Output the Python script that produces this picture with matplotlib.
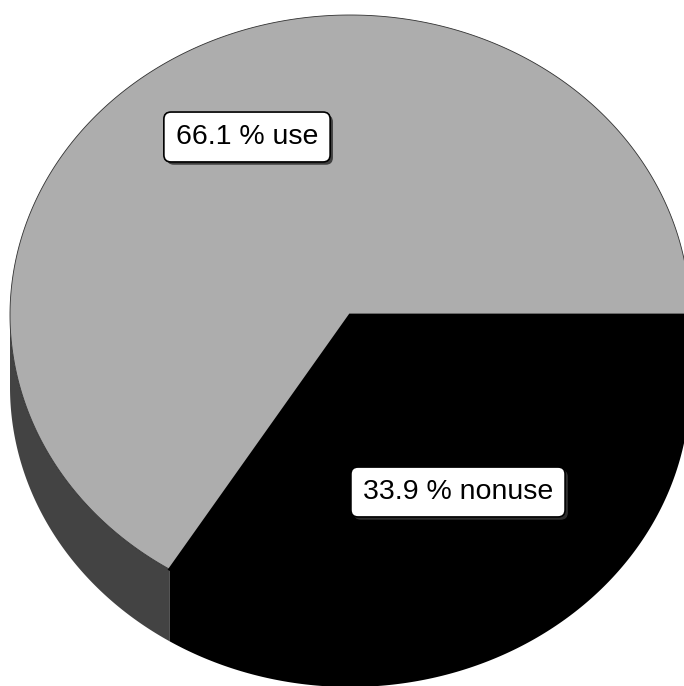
import matplotlib
matplotlib.use('Agg')
import matplotlib.pyplot as plt  # type: ignore
import matplotlib.patheffects as pe  # type: ignore
import numpy as np

# Chart data
labels = ['use', 'nonuse']
shares = [66.1, 33.9]
top_colours = ['#adadad', '#000000']
top_edges = ['#303030', '#000000']
edge_widths = [0.6, 2.0]
side_colours = ['#434343', '#000000']

# Layout of the tilted pie, in pixels of the output image
CENTRE = (350.0, 315.0)
RADIUS_X = 340.0
RADIUS_Y = 300.0
DEPTH = 72.0
LABEL_POS = [(247, 137), (458, 492)]


def rim(theta: np.ndarray, drop: float = 0.0) -> tuple:
    """ Points on the rim of the pie for angles in degrees. """
    t = np.radians(theta)
    x = CENTRE[0] + RADIUS_X * np.cos(t)
    y = CENTRE[1] - RADIUS_Y * np.sin(t) + drop
    return x, y


def slice_angles(values: list) -> list:
    """ Start and end angle of each slice. The last slice runs clockwise
    from three o'clock, the others fill the rest counter-clockwise.
    """
    total = sum(values)
    small = values[-1] / total * 360
    return [(0.0, 360.0 - small), (-small, 0.0)]


fig = plt.figure(figsize=(6.84, 6.86), dpi=100)
ax = fig.add_axes([0, 0, 1, 1])
ax.set_xlim(0, 684)
ax.set_ylim(686, 0)
ax.axis('off')

angles = slice_angles(shares)

# Side walls, only the front half (180..360 deg) shows
for (start, end), colour in zip(angles, side_colours):
    if start < 0:
        lo, hi = start + 360, end + 360
    else:
        lo, hi = max(start, 180.0), min(end, 360.0)
    if hi <= lo:
        continue
    theta = np.linspace(lo, hi, 200)
    x_top, y_top = rim(theta)
    x_bot, y_bot = rim(theta[::-1], DEPTH)
    ax.fill(np.concatenate([x_top, x_bot]), np.concatenate([y_top, y_bot]),
            color=colour, linewidth=0)

# Top faces
for (start, end), colour, edge, lw in zip(angles, top_colours, top_edges,
                                          edge_widths):
    theta = np.linspace(start, end, 400)
    x_arc, y_arc = rim(theta)
    ax.fill(np.concatenate([[CENTRE[0]], x_arc, [CENTRE[0]]]),
            np.concatenate([[CENTRE[1]], y_arc, [CENTRE[1]]]),
            facecolor=colour, edgecolor=edge, linewidth=lw)

# Labels
for label, share, pos in zip(labels, shares, LABEL_POS):
    txt = ax.text(
        pos[0], pos[1], f'{share} % {label}',
        ha='center', va='center', fontsize=20.5,
        family=['Liberation Sans', 'DejaVu Sans'],
        bbox=dict(boxstyle='round,pad=0.42,rounding_size=0.25',
                  facecolor='white', edgecolor='black', linewidth=1.2),
    )
    txt.get_bbox_patch().set_path_effects([
        pe.withSimplePatchShadow(offset=(2, -2), shadow_rgbFace='#333333',
                                 alpha=0.9)
    ])

fig.savefig('out.png', dpi=100)
